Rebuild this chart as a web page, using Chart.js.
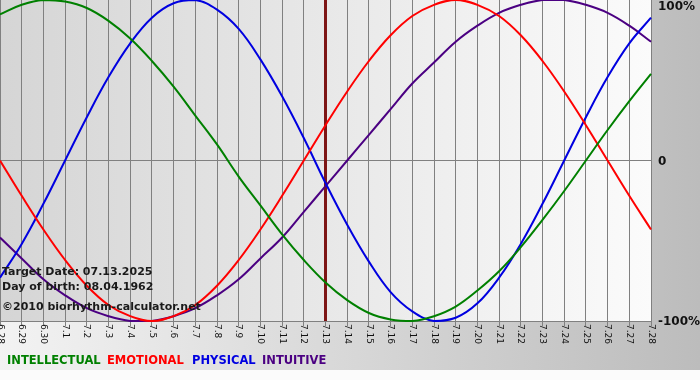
<!DOCTYPE html>
<html>
<head>
<meta charset="utf-8">
<script src="https://cdn.jsdelivr.net/npm/chart.js"></script>
<style>
  html, body { margin: 0; padding: 0; background: #fff; }
  #wrap { width: 700px; height: 380px; }
</style>
</head>
<body>
<div id="wrap"><canvas id="chart" width="700" height="380"></canvas></div>
<script>
// Days shown along the bottom
const days = ["6.28", "6.29", "6.30", "7.1", "7.2", "7.3", "7.4", "7.5", "7.6", "7.7", "7.8", "7.9", "7.10",
  "7.11", "7.12", "7.13", "7.14", "7.15", "7.16", "7.17", "7.18", "7.19", "7.20", "7.21", "7.22", "7.23",
  "7.24", "7.25", "7.26", "7.27", "7.28"];

// Cycle values per day (-1 .. 1)
const intellectual = [0.91, 0.97, 1.00, 0.99, 0.95, 0.87, 0.76, 0.62, 0.46, 0.28, 0.10, -0.10, -0.28, -0.46, -0.62,
  -0.76, -0.87, -0.95, -0.99, -1.00, -0.97, -0.91, -0.81, -0.69, -0.54, -0.37, -0.19, 0.00, 0.19, 0.37, 0.54];
const emotional = [0.00, -0.22, -0.43, -0.62, -0.78, -0.90, -0.97, -1.00, -0.97, -0.90, -0.78, -0.62, -0.43, -0.22, 0.00,
  0.22, 0.43, 0.62, 0.78, 0.90, 0.97, 1.00, 0.97, 0.90, 0.78, 0.62, 0.43, 0.22, 0.00, -0.22, -0.43];
const physical = [-0.73, -0.52, -0.27, 0.00, 0.27, 0.52, 0.73, 0.89, 0.98, 1.00, 0.94, 0.82, 0.63, 0.40, 0.14,
  -0.14, -0.40, -0.63, -0.82, -0.94, -1.00, -0.98, -0.89, -0.73, -0.52, -0.27, 0.00, 0.27, 0.52, 0.73, 0.89];
const intuitive = [-0.48, -0.61, -0.74, -0.84, -0.92, -0.97, -1.00, -1.00, -0.97, -0.92, -0.84, -0.74, -0.61, -0.48, -0.32,
  -0.16, 0.00, 0.16, 0.32, 0.48, 0.61, 0.74, 0.84, 0.92, 0.97, 1.00, 1.00, 0.97, 0.92, 0.84, 0.74];

const seriesNames = ["INTELLECTUAL", "EMOTIONAL", "PHYSICAL", "INTUITIVE"];
const seriesColors = ["#008000", "#ff0000", "#0000e0", "#4b0082"];
const yTickLabels = { "1": "100%", "0": "0", "-1": "-100%" };
const targetDay = "7.13";
const infoLines = ["Target Date: 07.13.2025", "Day of birth: 08.04.1962", "\u00a92010 biorhythm-calculator.net"];

const FONT = '"DejaVu Sans", Verdana, sans-serif';

// backgrounds, target marker, rotated day labels, texts
const decor = {
  id: "decor",
  beforeDraw(chart) {
    const ctx = chart.ctx;
    const a = chart.chartArea;
    ctx.save();
    const g = ctx.createLinearGradient(0, 0, chart.width, 0);
    g.addColorStop(0, "#f3f3f3");
    g.addColorStop(1, "#bcbcbc");
    ctx.fillStyle = g;
    ctx.fillRect(0, 0, chart.width, 370);
    ctx.fillStyle = "#fbfbfb";
    ctx.fillRect(0, 370, chart.width, chart.height - 370);
    const p = ctx.createLinearGradient(a.left, 0, a.right, 0);
    p.addColorStop(0, "#d5d5d5");
    p.addColorStop(1, "#fbfbfb");
    ctx.fillStyle = p;
    ctx.fillRect(a.left, a.top, a.right - a.left, a.bottom - a.top);
    ctx.restore();
  },
  beforeDatasetsDraw(chart) {
    const ctx = chart.ctx;
    const a = chart.chartArea;
    const x = chart.scales.x.getPixelForValue(days.indexOf(targetDay));
    ctx.save();
    ctx.strokeStyle = "#7d1515";
    ctx.lineWidth = 3;
    ctx.beginPath();
    ctx.moveTo(x, a.top);
    ctx.lineTo(x, a.bottom);
    ctx.stroke();
    ctx.restore();
  },
  afterDatasetsDraw(chart) {
    const ctx = chart.ctx;
    const xs = chart.scales.x;
    const ys = chart.scales.y;
    ctx.save();
    // day labels, reading top to bottom
    ctx.fillStyle = "#111";
    ctx.font = "9px " + FONT;
    ctx.textAlign = "left";
    ctx.textBaseline = "middle";
    days.forEach((d, i) => {
      ctx.save();
      ctx.translate(xs.getPixelForValue(i), chart.chartArea.bottom + 3);
      ctx.rotate(Math.PI / 2);
      ctx.fillText(d, 0, 0);
      ctx.restore();
    });
    // percent labels on the right
    ctx.font = "bold 12px " + FONT;
    ctx.fillStyle = "#111";
    Object.keys(yTickLabels).forEach(v => {
      let y = ys.getPixelForValue(Number(v));
      y = Math.max(7, y + 1);
      ctx.fillText(yTickLabels[v], chart.chartArea.right + 7, y);
    });
    // info block
    ctx.font = "bold 11px " + FONT;
    ctx.fillStyle = "#1a1a1a";
    ctx.fillText(infoLines[0], 2, 272);
    ctx.fillText(infoLines[1], 2, 287);
    ctx.fillText(infoLines[2], 2, 307);
    // legend
    ctx.font = "bold 11.5px " + FONT;
    const legendX = [7, 107, 192, 262];
    seriesNames.forEach((n, i) => {
      ctx.fillStyle = seriesColors[i];
      ctx.fillText(n, legendX[i], 361);
    });
    ctx.restore();
  }
};

const allSeries = [intellectual, emotional, physical, intuitive];

new Chart(document.getElementById("chart"), {
  type: "line",
  data: {
    labels: days,
    datasets: allSeries.map((s, i) => ({
      label: seriesNames[i],
      data: s,
      borderColor: seriesColors[i],
      borderWidth: 2,
      pointRadius: 0,
      tension: 0.4,
      fill: false,
      clip: false
    }))
  },
  options: {
    responsive: false,
    animation: false,
    devicePixelRatio: 1,
    layout: { padding: 0 },
    plugins: { legend: { display: false }, tooltip: { enabled: false } },
    scales: {
      x: {
        offset: false,
        ticks: { display: false, autoSkip: false },
        grid: { color: "#808080", lineWidth: 1, tickLength: 5, drawTicks: true },
        border: { display: true, color: "#808080" },
        afterFit(s) { s.height = 59; s.paddingLeft = 0; s.paddingRight = 0; }
      },
      y: {
        position: "right",
        min: -1,
        max: 1,
        ticks: { display: false, stepSize: 1 },
        grid: {
          color: c => (c.tick && c.tick.value === 0 ? "#808080" : "rgba(0,0,0,0)"),
          drawTicks: false
        },
        border: { display: false },
        afterFit(s) { s.width = 49; s.paddingTop = 0; s.paddingBottom = 0; }
      }
    }
  },
  plugins: [decor]
});
</script>
</body>
</html>
